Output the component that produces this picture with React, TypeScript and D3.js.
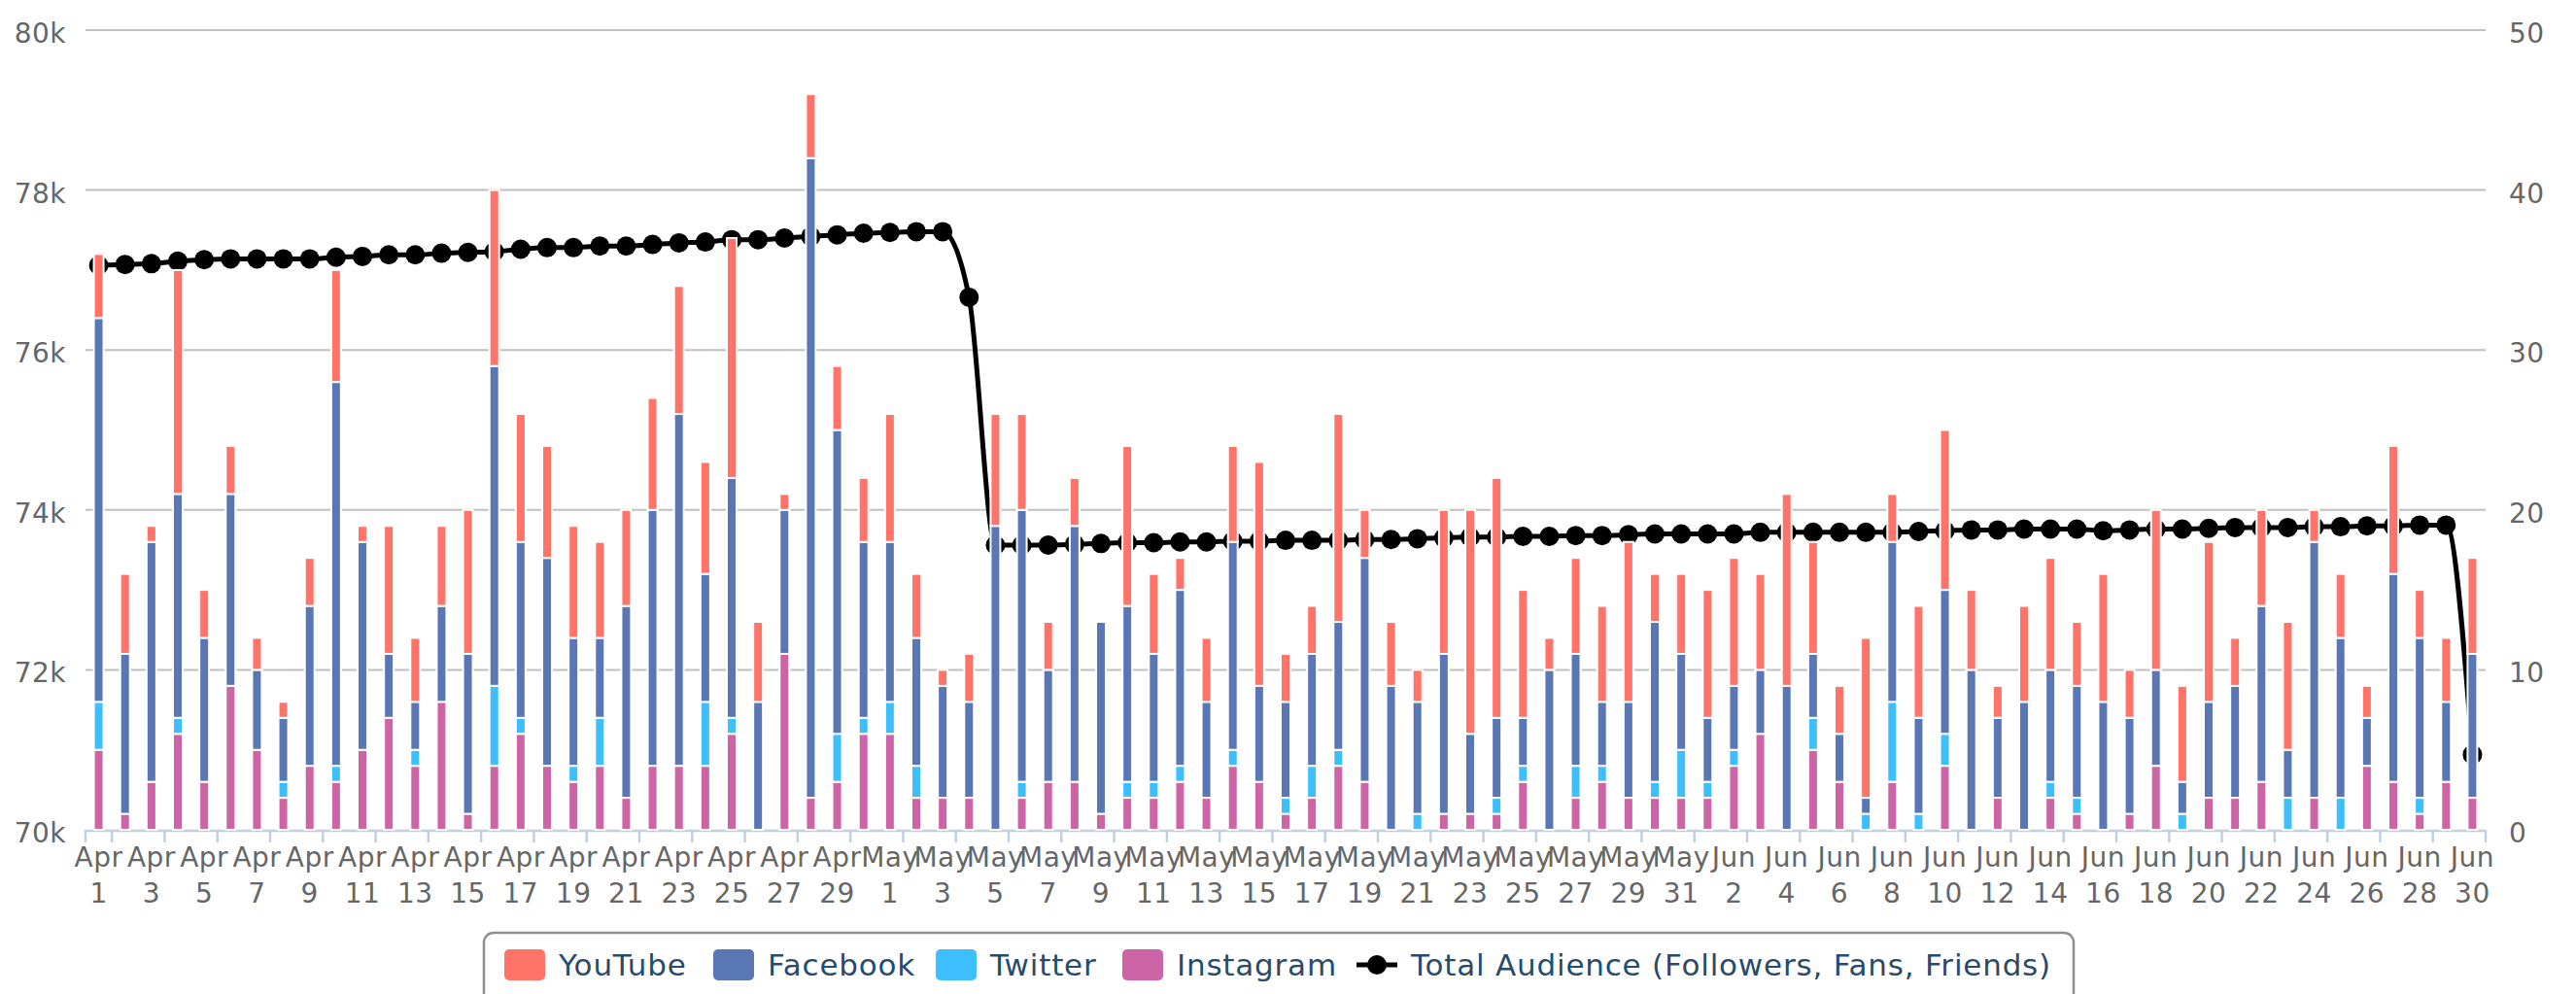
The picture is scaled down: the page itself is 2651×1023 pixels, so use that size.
import React, { useRef, useEffect } from 'react';
import * as d3 from 'd3';

const W = 2651;
const H = 1023;

// categories: every day from Apr 1 to Jun 30
const months: [string, number][] = [
  ['Apr', 30],
  ['May', 31],
  ['Jun', 30]
];
const categories = months.flatMap(([m, n]) => d3.range(1, n + 1).map((d) => `${m} ${d}`));

// bar segments (stacked on top of the 70k axis floor)
const instagram = [
  1000, 200, 600, 1200, 600, 1800, 1000, 400, 800, 600, 1000, 1400, 800, 1600, 200, 800, 1200, 800, 600, 800, 400, 800, 800, 800, 1200, 0, 2200, 400, 600, 1200,
  1200, 400, 400, 400, 0, 400, 600, 600, 200, 400, 400, 600, 400, 800, 600, 200, 400, 800, 600, 0, 0, 200, 200, 200, 600, 0, 400, 600, 400, 400, 400,
  400, 800, 1200, 0, 1000, 600, 0, 600, 0, 800, 0, 400, 0, 400, 200, 0, 200, 800, 0, 400, 400, 600, 0, 400, 0, 800, 600, 200, 600, 400
];
const twitter = [
  600, 0, 0, 200, 0, 0, 0, 200, 0, 200, 0, 0, 200, 0, 0, 1000, 200, 0, 200, 600, 0, 0, 0, 800, 200, 0, 0, 0, 600, 200,
  400, 400, 0, 0, 0, 200, 0, 0, 0, 200, 200, 200, 0, 200, 0, 200, 400, 200, 0, 0, 200, 0, 0, 200, 200, 0, 400, 200, 0, 200, 600,
  200, 200, 0, 0, 400, 0, 200, 1000, 200, 400, 0, 0, 0, 200, 200, 0, 0, 0, 200, 0, 0, 0, 400, 0, 400, 0, 0, 200, 0, 0
];
const facebook = [
  4800, 2000, 3000, 2800, 1800, 2400, 1000, 800, 2000, 4800, 2600, 800, 600, 1200, 2000, 4000, 2200, 2600, 1600, 1000, 2400, 3200, 4400, 1600, 3000, 1600, 1800, 8000, 3800, 2200,
  2000, 1600, 1400, 1200, 3800, 3400, 1400, 3200, 2400, 2200, 1600, 2200, 1200, 2600, 1200, 1200, 1400, 1600, 2800, 1800, 1400, 2000, 1000, 1000, 600, 2000, 1400, 800, 1200, 2000, 1200,
  800, 800, 800, 1800, 800, 600, 200, 2000, 1200, 1800, 2000, 1000, 1600, 1400, 1400, 1600, 1200, 1200, 400, 1200, 1400, 2200, 600, 3200, 2000, 600, 2600, 2000, 1000, 1800
];
const youtube = [
  800, 1000, 200, 2800, 600, 600, 400, 200, 600, 1400, 200, 1600, 800, 1000, 1800, 2200, 1600, 1400, 1400, 1200, 1200, 1400, 1600, 1400, 3000, 1000, 200, 800, 800, 800,
  1600, 800, 200, 600, 1400, 1200, 600, 600, 0, 2000, 1000, 400, 800, 1200, 2800, 600, 600, 2600, 600, 800, 400, 1800, 2800, 3000, 1600, 400, 1200, 1200, 2000, 600, 1000,
  1600, 1600, 1200, 2400, 1400, 600, 2000, 600, 1400, 2000, 1000, 400, 1200, 1400, 800, 1600, 600, 2000, 1200, 2000, 600, 1200, 1600, 400, 800, 400, 1600, 600, 800, 1200
];
// line on the right axis
const totalAudience = [
  35.3, 35.35, 35.4, 35.55, 35.65, 35.7, 35.7, 35.7, 35.7, 35.8, 35.85, 35.95, 35.95, 36.05, 36.1, 36.15, 36.3, 36.4, 36.4, 36.5, 36.5, 36.6, 36.7, 36.75, 36.9, 36.9, 37.0, 37.1, 37.2, 37.3,
  37.35, 37.4, 37.4, 33.3, 17.8, 17.8, 17.8, 17.85, 17.9, 17.95, 17.95, 18.0, 18.0, 18.05, 18.05, 18.1, 18.1, 18.1, 18.15, 18.15, 18.2, 18.25, 18.3, 18.3, 18.35, 18.35, 18.4, 18.4, 18.45, 18.5, 18.5,
  18.5, 18.5, 18.6, 18.6, 18.6, 18.6, 18.6, 18.6, 18.65, 18.7, 18.75, 18.75, 18.8, 18.8, 18.8, 18.7, 18.75, 18.8, 18.8, 18.85, 18.9, 18.9, 18.9, 18.95, 18.95, 19.0, 19.0, 19.05, 19.05, 4.7
];

const leftTicks = [70000, 72000, 74000, 76000, 78000, 80000];
const rightTicks = [0, 10, 20, 30, 40, 50];

const seriesKeys = ['instagram', 'twitter', 'facebook', 'youtube'];
const colors: Record<string, string> = {
  youtube: '#ff7369',
  facebook: '#5a77b5',
  twitter: '#3cbeff',
  instagram: '#cc64a6'
};
const legendItems = [
  { key: 'youtube', name: 'YouTube' },
  { key: 'facebook', name: 'Facebook' },
  { key: 'twitter', name: 'Twitter' },
  { key: 'instagram', name: 'Instagram' },
  { key: 'line', name: 'Total Audience (Followers, Fans, Friends)' }
];
// where each legend symbol starts
const legendX = [519, 734, 963, 1155, 1396];

const FONT = "'DejaVu Sans', Verdana, sans-serif";

export default function App(): JSX.Element {
  const svgRef = useRef<SVGSVGElement>(null);
  useEffect(() => {
    const svgEle = svgRef.current;
    if (svgEle == null) {
      return;
    }
    const svg = d3.select(svgEle);
    svg.selectAll('*').remove();

    const plot = { left: 88, right: 2558, top: 31, bottom: 854 };

    const x = d3.scaleBand<string>().domain(categories).range([plot.left, plot.right]);
    const bw = x.bandwidth();
    const cx = (c: string) => (x(c) as number) + bw / 2;
    const y = d3.scaleLinear().domain([70000, 80000]).range([plot.bottom, plot.top]);
    const y2 = d3.scaleLinear().domain([0, 50]).range([plot.bottom, plot.top]);

    // grid
    svg
      .append('g')
      .selectAll('line')
      .data(leftTicks.slice(1))
      .join('line')
      .attr('x1', plot.left)
      .attr('x2', plot.right)
      .attr('y1', (d) => y(d))
      .attr('y2', (d) => y(d))
      .attr('stroke', '#c0c0c0')
      .attr('stroke-width', 2);

    // x axis line + ticks
    svg
      .append('line')
      .attr('x1', plot.left)
      .attr('x2', plot.right)
      .attr('y1', plot.bottom + 1)
      .attr('y2', plot.bottom + 1)
      .attr('stroke', '#c0d0e0')
      .attr('stroke-width', 2.5);
    const tickIdx = [0, ...d3.range(1, categories.length + 1, 2)];
    svg
      .append('g')
      .selectAll('line')
      .data(tickIdx)
      .join('line')
      .attr('x1', (i) => plot.left + i * bw)
      .attr('x2', (i) => plot.left + i * bw)
      .attr('y1', plot.bottom)
      .attr('y2', plot.bottom + 13)
      .attr('stroke', '#c0d0e0')
      .attr('stroke-width', 2.5);

    // x labels, every other day
    const xl = svg
      .append('g')
      .selectAll('text')
      .data(categories.filter((_, i) => i % 2 === 0))
      .join('text')
      .attr('text-anchor', 'middle')
      .style('font-family', FONT)
      .style('font-size', '28px')
      .style('letter-spacing', '0.5px')
      .attr('fill', '#666666');
    xl.append('tspan')
      .attr('x', (d) => cx(d))
      .attr('y', 892)
      .text((d) => d.split(' ')[0]);
    xl.append('tspan')
      .attr('x', (d) => cx(d))
      .attr('y', 929)
      .text((d) => d.split(' ')[1]);

    // y labels left
    svg
      .append('g')
      .selectAll('text')
      .data(leftTicks)
      .join('text')
      .attr('x', 68)
      .attr('y', (d) => y(d) + 13)
      .attr('text-anchor', 'end')
      .style('font-family', FONT)
      .style('font-size', '28px')
      .style('letter-spacing', '0.5px')
      .attr('fill', '#666666')
      .text((d) => `${d / 1000}k`);
    // y labels right
    svg
      .append('g')
      .selectAll('text')
      .data(rightTicks)
      .join('text')
      .attr('x', 2582)
      .attr('y', (d) => y2(d) + 13)
      .attr('text-anchor', 'start')
      .style('font-family', FONT)
      .style('font-size', '28px')
      .style('letter-spacing', '0.5px')
      .attr('fill', '#666666')
      .text((d) => `${d}`);

    // line (drawn behind the columns)
    const line = d3
      .line<number>()
      .x((_, i) => cx(categories[i]))
      .y((d) => y2(d))
      .curve(d3.curveMonotoneX);
    svg
      .append('path')
      .attr('d', line(totalAudience) as string)
      .attr('fill', 'none')
      .attr('stroke', '#000000')
      .attr('stroke-width', 5);
    svg
      .append('g')
      .selectAll('circle')
      .data(totalAudience)
      .join('circle')
      .attr('cx', (_, i) => cx(categories[i]))
      .attr('cy', (d) => y2(d))
      .attr('r', 10)
      .attr('fill', '#000000');

    // stacked columns
    const rows = categories.map((c, i) => ({
      cat: c,
      instagram: instagram[i],
      twitter: twitter[i],
      facebook: facebook[i],
      youtube: youtube[i]
    }));
    const stacked = d3.stack<any>().keys(seriesKeys)(rows);
    const base = 70000;
    const barW = 10;
    svg
      .append('g')
      .selectAll('g')
      .data(stacked)
      .join('g')
      .attr('fill', (s) => colors[s.key])
      .selectAll('rect')
      .data((s) => s.filter((d) => d[1] - d[0] > 0))
      .join('rect')
      .attr('x', (d) => cx(d.data.cat) - barW / 2)
      .attr('width', barW)
      .attr('y', (d) => y(base + d[1]))
      .attr('height', (d) => y(base + d[0]) - y(base + d[1]))
      .attr('stroke', '#ffffff')
      .attr('stroke-width', 2);

    // legend
    const lg = svg.append('g');
    lg.append('rect')
      .attr('x', 498)
      .attr('y', 960)
      .attr('width', 2134 - 498)
      .attr('height', 90)
      .attr('rx', 10)
      .attr('fill', '#ffffff')
      .attr('stroke', '#909090')
      .attr('stroke-width', 2.5);
    const cy = 993;
    legendItems.forEach((item, k) => {
      const lx = legendX[k];
      if (item.key === 'line') {
        lg.append('line')
          .attr('x1', lx)
          .attr('x2', lx + 42)
          .attr('y1', cy)
          .attr('y2', cy)
          .attr('stroke', '#000000')
          .attr('stroke-width', 5);
        lg.append('circle').attr('cx', lx + 21).attr('cy', cy).attr('r', 10).attr('fill', '#000000');
      } else {
        lg.append('rect')
          .attr('x', lx)
          .attr('y', cy - 16)
          .attr('width', 42)
          .attr('height', 32)
          .attr('rx', 5)
          .attr('fill', colors[item.key]);
      }
      lg.append('text')
        .attr('x', lx + 56)
        .attr('y', 1004)
        .style('font-family', FONT)
        .style('font-size', '31px')
        .style('letter-spacing', '0.8px')
        .attr('fill', '#274b6d')
        .text(item.name);
    });
  }, []);
  return (
    <svg
      ref={svgRef}
      width={W}
      height={H}
      style={{ position: 'absolute', left: 0, top: 0, display: 'block', background: '#ffffff' }}
    />
  );
}
